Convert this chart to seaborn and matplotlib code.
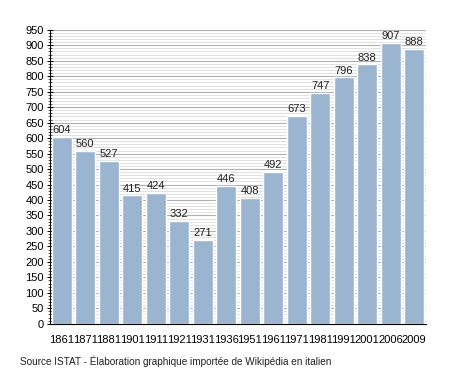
import numpy as np
import pandas as pd
import matplotlib
matplotlib.use("Agg")
import matplotlib.pyplot as plt
from matplotlib.ticker import MultipleLocator
import seaborn as sns

# ========== DATA ==========
years = ["1861", "1871", "1881", "1901", "1911", "1921", "1931", "1936",
         "1951", "1961", "1971", "1981", "1991", "2001", "2006", "2009"]
population = [604, 560, 527, 415, 424, 332, 271, 446,
              408, 492, 673, 747, 796, 838, 907, 888]

df = pd.DataFrame({"year": years, "pop": population})

sns.set_theme(style="white")
plt.rcParams["font.family"] = ["Liberation Sans", "DejaVu Sans"]

fig = plt.figure(figsize=(4.55, 3.73), dpi=100)
ax = fig.add_axes([0.110, 0.132, 0.826, 0.788])

ax.yaxis.set_major_locator(MultipleLocator(50))
ax.yaxis.set_minor_locator(MultipleLocator(10))
ax.grid(which="major", axis="y", color="#b0b0b0", linewidth=0.8)
ax.grid(which="minor", axis="y", color="#dcdcdc", linewidth=0.6)
ax.set_axisbelow(True)

sns.barplot(data=df, x="year", y="pop", color="#9bb4d0", saturation=1,
            width=0.86, ax=ax)

for i, v in enumerate(population):
    ax.text(i, v + 6, str(v), ha="center", va="bottom", fontsize=8, color="#222222")

ax.set_ylim(0, 950)
ax.set_xlim(-0.5, len(years) - 0.5)
ax.set_xlabel("")
ax.set_ylabel("")
for s in ["top", "right"]:
    ax.spines[s].set_visible(False)
ax.spines["left"].set_color("black")
ax.spines["left"].set_linewidth(0.8)
ax.spines["bottom"].set_color("black")
ax.spines["bottom"].set_linewidth(0.8)

ax.tick_params(axis="y", which="major", direction="inout", length=5, width=0.7,
               labelsize=8, left=True, pad=2, colors="black")
ax.tick_params(axis="y", which="minor", direction="inout", length=3, width=0.5, left=True)
ax.tick_params(axis="x", labelsize=8, bottom=False, pad=2, colors="black")

fig.text(0.044, 0.022, "Source ISTAT - Élaboration graphique importée de Wikipédia en italien",
         fontsize=7.2, color="#222222")

fig.savefig("out.png", dpi=100)
